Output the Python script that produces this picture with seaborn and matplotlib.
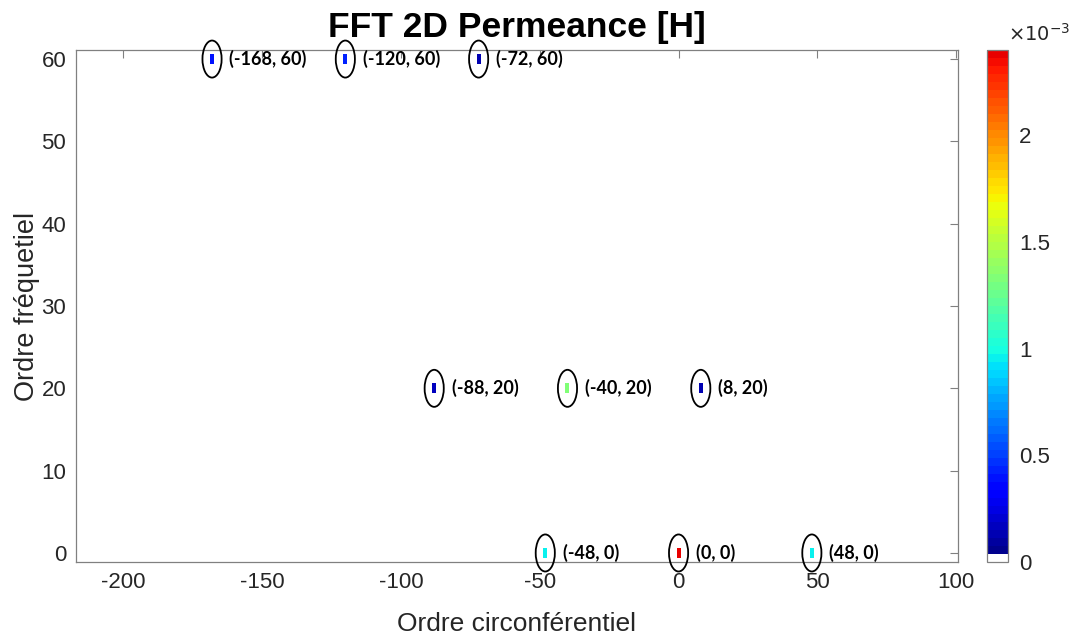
import numpy as np
import pandas as pd
import matplotlib
matplotlib.use("Agg")
import matplotlib.pyplot as plt
import seaborn as sns
from matplotlib.colors import ListedColormap, Normalize
from matplotlib.patches import Ellipse
from matplotlib.path import Path
from matplotlib.cm import ScalarMappable

# ---- data ----
circ_order = [-168, -120, -72, -88, -40, 8, -48, 0, 48]
freq_order = [60, 60, 60, 20, 20, 20, 0, 0, 0]
permeance = [0.38e-3, 0.44e-3, 0.12e-3, 0.15e-3, 1.33e-3, 0.14e-3, 0.96e-3, 2.38e-3, 0.96e-3]
x_ticks = [-200, -150, -100, -50, 0, 50, 100]
y_ticks = [0, 10, 20, 30, 40, 50, 60]
cbar_ticks = [0, 0.5e-3, 1.0e-3, 1.5e-3, 2.0e-3]
cbar_ticklabels = ["0", "0.5", "1", "1.5", "2"]

df = pd.DataFrame({"k": circ_order, "f": freq_order, "val": permeance})

sns.set_theme(style="white")
plt.rcParams["font.family"] = ["Liberation Sans", "DejaVu Sans"]
plt.rcParams["axes.unicode_minus"] = False

# jet colormap (64 levels, navy -> red), lowest level white
cols = plt.get_cmap("jet")(np.linspace(0, 0.91, 64))
cols[0] = [1, 1, 1, 1]
cmap = ListedColormap(cols)
vmax = 2.4e-3
norm = Normalize(vmin=0, vmax=vmax)

fig = plt.figure(figsize=(10.7, 6.37), dpi=100)
ax = fig.add_axes([0.071, 0.1177, 0.824, 0.8038])
cax = fig.add_axes([0.9225, 0.1177, 0.0196, 0.8038])

rect = Path([(-0.2, -0.5), (0.2, -0.5), (0.2, 0.5), (-0.2, 0.5), (-0.2, -0.5)],
            [Path.MOVETO, Path.LINETO, Path.LINETO, Path.LINETO, Path.CLOSEPOLY])

sns.scatterplot(data=df, x="k", y="f", hue="val", palette=cmap, hue_norm=norm,
                marker=rect, s=52, linewidth=0, legend=False, ax=ax, zorder=3)

for k, f in zip(circ_order, freq_order):
    ax.add_patch(Ellipse((k, f), width=6.9, height=4.5, fill=False,
                         edgecolor="black", lw=1.3, clip_on=False, zorder=4))
    ax.annotate(f"({k}, {f})", (k, f), xytext=(12.5, 0), textcoords="offset points",
                ha="left", va="center", fontsize=13, fontweight="bold",
                family=["Lato", "DejaVu Sans"], color="black", annotation_clip=False)

ax.set_xlim(-217, 100.5)
ax.set_ylim(-1.1, 61.1)
ax.set_xticks(x_ticks)
ax.set_yticks(y_ticks)
ax.tick_params(axis="both", which="both", direction="in", length=6, width=0.8,
               colors="#808080", labelcolor="#262626", labelsize=16,
               top=True, right=True, labeltop=False, labelright=False, pad=7)
for sp in ax.spines.values():
    sp.set_color("#808080")
    sp.set_linewidth(0.9)
ax.set_xlabel("Ordre circonférentiel", fontsize=19, color="#262626", labelpad=14)
ax.set_ylabel("Ordre fréquetiel", fontsize=19.5, color="#262626", labelpad=1)
ax.set_title("FFT 2D Permeance [H]", fontsize=25.5, fontweight="bold", color="black", pad=9.5)
ax.grid(False)

cb = fig.colorbar(ScalarMappable(norm=norm, cmap=cmap), cax=cax)
cb.set_ticks(cbar_ticks)
cb.set_ticklabels(cbar_ticklabels)
cb.outline.set_edgecolor("#808080")
cb.outline.set_linewidth(0.9)
cax.tick_params(direction="in", length=4, colors="#808080", labelcolor="#262626",
                labelsize=16, pad=8)
fig.text(0.942, 0.93, r"$\times10^{-3}$", fontsize=14, color="#262626",
         ha="left", va="bottom")

fig.savefig("out.png", dpi=100)
